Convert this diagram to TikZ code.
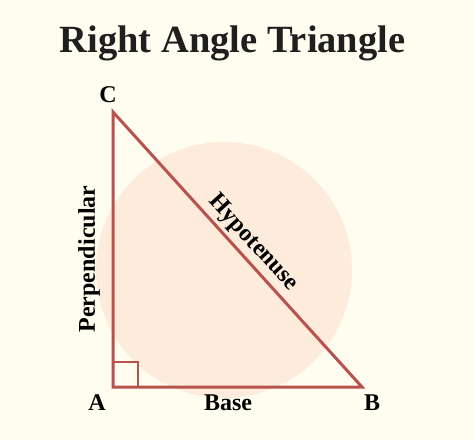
\documentclass[tikz,border=0pt]{standalone}
\usepackage{fontspec}
\setmainfont{Liberation Serif}
\usetikzlibrary{calc}
\definecolor{paper}{RGB}{255,253,240}
\definecolor{peach}{RGB}{253,236,219}
\definecolor{edge}{RGB}{184,82,79}
\newcommand*{\pwd}{474}
\newcommand*{\pht}{440}
\newcommand*{\rad}{128}
\newcommand*{\sqs}{25}
\newcommand*{\lbl}{\fontsize{24}{28}\selectfont\bfseries}

\begin{document}
\begin{tikzpicture}[x=1pt, y=1pt]
    \fill [paper] (0,0) rectangle (\pwd,\pht);
    \useasboundingbox (0,0) rectangle (\pwd,\pht);
    \node [anchor=base, font=\fontsize{38.5}{44}\selectfont\bfseries, text=black!88] (title) at (232.5,387) {Right Angle Triangle};
        \fill [peach] (224,170) circle (\rad);
        \coordinate (A) at (113,53);
        \coordinate (B) at (362,53);
        \coordinate (C) at (113,328);
        \draw [edge, line width=3pt] (A) -- (B) -- (C) -- cycle;
        \draw [edge, line width=2pt] (A) rectangle ($(A)+(\sqs,\sqs)$);
        \node [font=\lbl] (lA) at (97,37)  {A};
        \node [font=\lbl] (lB) at (372,37) {B};
        \node [font=\lbl] (lC) at (108,345) {C};
        \node [font=\lbl] (base) at (228,37) {Base};
        \node [font=\lbl, rotate=90] (perp) at (89,181) {Perpendicular};
        \node [font=\lbl, rotate=-47.8] (hyp) at (253,197) {Hypotenuse};
    \end{tikzpicture}
\end{document}
